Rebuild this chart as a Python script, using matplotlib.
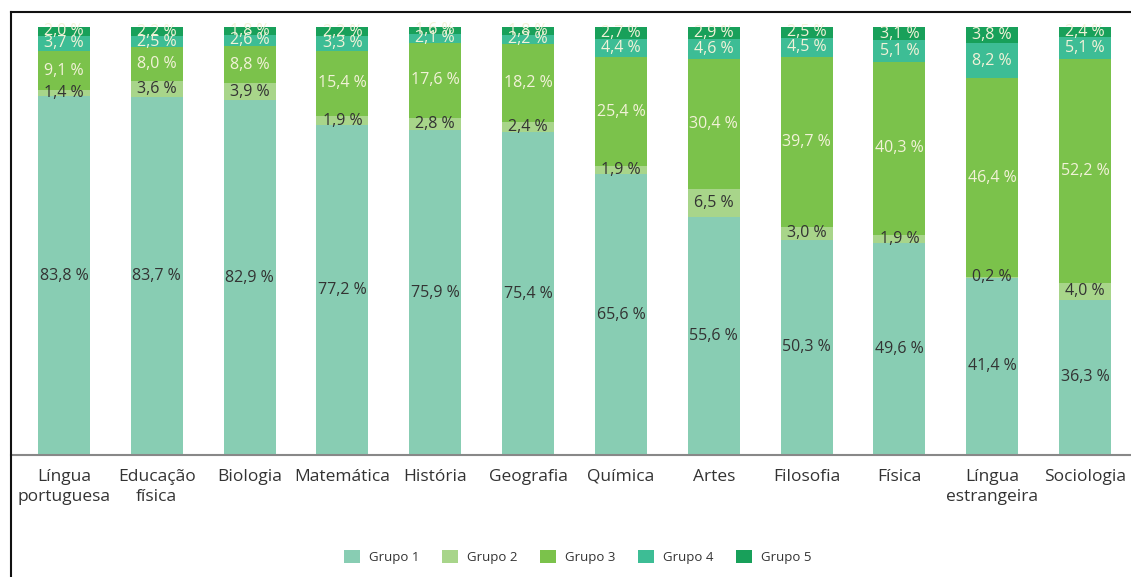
import numpy as np
import matplotlib.pyplot as plt
from matplotlib.lines import Line2D

# data
disciplinas = ["Língua\nportuguesa", "Educação\nfísica", "Biologia", "Matemática",
               "História", "Geografia", "Química", "Artes", "Filosofia", "Física",
               "Língua\nestrangeira", "Sociologia"]
grupos = ["Grupo 1", "Grupo 2", "Grupo 3", "Grupo 4", "Grupo 5"]
grupo1 = [83.8, 83.7, 82.9, 77.2, 75.9, 75.4, 65.6, 55.6, 50.3, 49.6, 41.4, 36.3]
grupo2 = [1.4, 3.6, 3.9, 1.9, 2.8, 2.4, 1.9, 6.5, 3.0, 1.9, 0.2, 4.0]
grupo3 = [9.1, 8.0, 8.8, 15.4, 17.6, 18.2, 25.4, 30.4, 39.7, 40.3, 46.4, 52.2]
grupo4 = [3.7, 2.5, 2.6, 3.3, 2.1, 2.2, 4.4, 4.6, 4.5, 5.1, 8.2, 5.1]
grupo5 = [2.0, 2.2, 1.8, 2.2, 1.6, 1.8, 2.7, 2.9, 2.5, 3.1, 3.8, 2.4]

cores = ["#88cdb3", "#a8d58a", "#7bc24b", "#3dbd95", "#18a05a"]
cor_texto = ["#333333", "#333333", "#f2f2d8", "#f2f2d8", "#f2f2d8"]

plt.rcParams['font.family'] = ['Open Sans', 'DejaVu Sans']

fig = plt.figure(figsize=(11.31, 5.77), dpi=100)
ax = fig.add_axes([11 / 1131, 1 - 455 / 577, 1120 / 1131, 428 / 577])

x = np.arange(len(disciplinas))
base = np.zeros(len(disciplinas))
for serie, nome, cor, ct in zip([grupo1, grupo2, grupo3, grupo4, grupo5], grupos, cores, cor_texto):
    vals = np.array(serie)
    ax.bar(x, vals, bottom=base, width=0.56, color=cor, label=nome)
    for xi, b, v in zip(x, base, vals):
        ax.text(xi, b + v / 2, f"{v:.1f} %".replace(".", ","), ha="center", va="center",
                fontsize=11.5, color=ct)
    base = base + vals

ax.set_xlim(-0.571, 11.496)
ax.set_ylim(0, 100)
ax.set_yticks([])
ax.set_xticks(x)
ax.set_xticklabels(disciplinas, fontsize=12.5, color="#333333", linespacing=1.35)
ax.tick_params(axis="x", length=0, pad=10)
for s in ["top", "right", "left"]:
    ax.spines[s].set_visible(False)
ax.spines["bottom"].set_color("#888888")
ax.spines["bottom"].set_linewidth(1.5)

leg = fig.legend(loc="center", bbox_to_anchor=(0.511, 1 - 557 / 577), ncol=5, frameon=False,
                 fontsize=9.5, handlelength=1.2, handleheight=1.2, columnspacing=1.7,
                 handletextpad=0.7)
for t in leg.get_texts():
    t.set_color("#333333")

# frame lines of the original screenshot
fig.add_artist(Line2D([11 / 1131, 11 / 1131], [0, 1 - 12 / 577], transform=fig.transFigure,
                      color="#111111", linewidth=1.5))
fig.add_artist(Line2D([11 / 1131, 1], [1 - 12 / 577, 1 - 12 / 577], transform=fig.transFigure,
                      color="#111111", linewidth=1.5))

fig.savefig("out.png", dpi=100)
